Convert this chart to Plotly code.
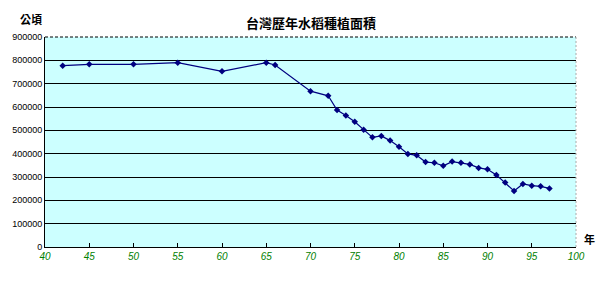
import plotly.graph_objects as go

years = [42, 45, 50, 55, 60, 65, 66, 70, 72, 73, 74, 75, 76, 77, 78, 79, 80,
         81, 82, 83, 84, 85, 86, 87, 88, 89, 90, 91, 92, 93, 94, 95, 96, 97]
area = [777000, 783000, 783000, 790000, 753000, 790000, 780000, 668000, 648000,
        587000, 564000, 537000, 503000, 470000, 476000, 456000, 430000,
        399000, 393000, 364000, 361000, 348000, 366000, 361000, 354000, 339000,
        333000, 309000, 276000, 240000, 270000, 263000, 260000, 251000]

x_ticks = list(range(40, 101, 5))
y_ticks = list(range(0, 900001, 100000))

title_text = "台灣歷年水稻種植面積"
y_unit = "公頃"
x_unit = "年"

fig = go.Figure()
fig.add_trace(go.Scatter(
    x=years, y=area, mode="lines+markers",
    line=dict(color="#000080", width=1.2),
    marker=dict(symbol="diamond", size=5, color="#000080"),
    showlegend=False, hoverinfo="skip",
))

fig.update_layout(
    width=600, height=282,
    margin=dict(l=40, r=24, t=37, b=35),
    paper_bgcolor="white", plot_bgcolor="#CCFFFF",
    font=dict(family="Liberation Sans, Arial", size=9, color="black"),
    xaxis=dict(range=[40, 100], tickvals=x_ticks, ticktext=[str(v) for v in x_ticks],
               showgrid=False, zeroline=False, showline=True, linecolor="black", linewidth=1,
               ticks="inside", ticklen=4, tickcolor="black",
               tickfont=dict(color="#008000", size=10, family="Liberation Sans, Arial", style="italic")),
    yaxis=dict(range=[0, 900000], tickvals=y_ticks, ticktext=[str(v) for v in y_ticks],
               showgrid=True, gridcolor="black", gridwidth=1, zeroline=False,
               showline=True, linecolor="black", linewidth=1, ticks="",
               tickfont=dict(color="black", size=9)),
    annotations=[
        dict(text="<b>" + title_text + "</b>", x=0.5, xref="paper", y=1.0714, yref="paper", showarrow=False,
             font=dict(family="Noto Sans CJK TC", size=13, color="black"), xanchor="center", yanchor="middle"),
        dict(text="<b>" + y_unit + "</b>", x=0, xref="paper", y=1, yref="paper", showarrow=False,
             xanchor="right", yanchor="bottom", xshift=-1, yshift=8,
             font=dict(family="Noto Sans CJK TC", size=11, color="black")),
        dict(text="<b>" + x_unit + "</b>", x=1, xref="paper", y=0, yref="paper", showarrow=False,
             xanchor="left", yanchor="bottom", xshift=6, yshift=-2,
             font=dict(family="Noto Sans CJK TC", size=11, color="black")),
    ],
    shapes=[
        dict(type="line", xref="paper", yref="paper", x0=0, x1=1, y0=1, y1=1,
             line=dict(color="black", width=1, dash="3px,2px")),
        dict(type="line", xref="paper", yref="paper", x0=1, x1=1, y0=0, y1=1,
             line=dict(color="#AAAAAA", width=1, dash="2px,2px")),
    ],
)

fig.write_html("out.html")
